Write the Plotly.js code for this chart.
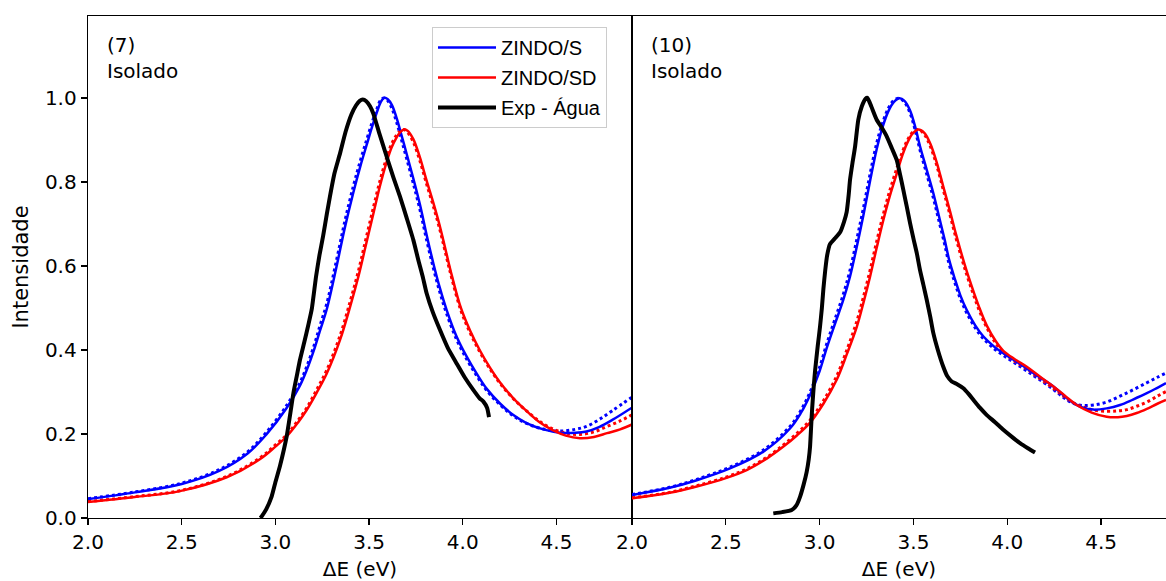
<!DOCTYPE html>
<html>
<head>
<meta charset="utf-8">
<script src="https://cdn.plot.ly/plotly-3.0.1.min.js"></script>
<style>html,body{margin:0;padding:0;background:#fff;}#chart{width:1166px;height:581px;}</style>
</head>
<body>
<div id="chart"></div>
<script>
// ---------- Panel (7) ----------
const zsX7 = [2.0, 2.25, 2.5, 2.7, 2.85, 2.95, 3.06, 3.131, 3.167, 3.211, 3.238, 3.274, 3.327, 3.37, 3.416, 3.455, 3.487, 3.515, 3.541, 3.562, 3.58, 3.6, 3.622, 3.647, 3.675, 3.701, 3.735, 3.772, 3.808, 3.843, 3.878, 3.914, 3.965, 4.021, 4.075, 4.127, 4.2, 4.27, 4.34, 4.43, 4.52, 4.6, 4.66, 4.73, 4.8, 4.9];
const zsY7 = [0.045, 0.061, 0.081, 0.112, 0.153, 0.198, 0.262, 0.315, 0.352, 0.407, 0.446, 0.497, 0.6, 0.69, 0.775, 0.84, 0.888, 0.93, 0.965, 0.99, 1.0, 0.997, 0.983, 0.952, 0.908, 0.866, 0.81, 0.745, 0.672, 0.606, 0.547, 0.495, 0.434, 0.384, 0.343, 0.308, 0.272, 0.245, 0.226, 0.211, 0.203, 0.203, 0.206, 0.217, 0.234, 0.262];
const zsDotY7 = [0.046, 0.062, 0.083, 0.115, 0.157, 0.203, 0.268, 0.322, 0.36, 0.417, 0.458, 0.51, 0.615, 0.705, 0.79, 0.853, 0.9, 0.94, 0.973, 0.995, 1.0, 0.993, 0.975, 0.942, 0.897, 0.855, 0.798, 0.733, 0.66, 0.595, 0.537, 0.486, 0.427, 0.378, 0.338, 0.304, 0.269, 0.243, 0.225, 0.212, 0.207, 0.211, 0.218, 0.235, 0.256, 0.287];
const zsdX7 = [2.0, 2.25, 2.49, 2.74, 2.917, 3.0, 3.06, 3.12, 3.167, 3.22, 3.274, 3.345, 3.4, 3.443, 3.483, 3.523, 3.56, 3.594, 3.62, 3.647, 3.665, 3.685, 3.705, 3.736, 3.77, 3.807, 3.843, 3.878, 3.91, 3.941, 3.99, 4.04, 4.09, 4.145, 4.2, 4.27, 4.34, 4.41, 4.48, 4.55, 4.625, 4.7, 4.77, 4.84, 4.9];
const zsdY7 = [0.038, 0.05, 0.064, 0.097, 0.14, 0.17, 0.194, 0.227, 0.257, 0.298, 0.344, 0.424, 0.505, 0.575, 0.65, 0.725, 0.794, 0.848, 0.882, 0.906, 0.918, 0.925, 0.922, 0.902, 0.86, 0.803, 0.75, 0.694, 0.635, 0.578, 0.5, 0.445, 0.4, 0.358, 0.322, 0.285, 0.255, 0.228, 0.209, 0.196, 0.19, 0.193, 0.202, 0.211, 0.222];
const zsdDotY7 = [0.039, 0.051, 0.065, 0.099, 0.143, 0.174, 0.198, 0.232, 0.262, 0.305, 0.352, 0.434, 0.517, 0.588, 0.664, 0.739, 0.806, 0.858, 0.89, 0.912, 0.921, 0.925, 0.918, 0.895, 0.852, 0.795, 0.742, 0.686, 0.627, 0.571, 0.494, 0.44, 0.396, 0.355, 0.32, 0.284, 0.255, 0.23, 0.212, 0.202, 0.199, 0.205, 0.218, 0.231, 0.245];
const expX7 = [2.92, 2.927, 2.95, 2.98, 3.0, 3.025, 3.06, 3.08, 3.096, 3.115, 3.131, 3.155, 3.176, 3.194, 3.217, 3.235, 3.255, 3.275, 3.291, 3.315, 3.345, 3.375, 3.405, 3.43, 3.45, 3.466, 3.485, 3.505, 3.523, 3.555, 3.594, 3.63, 3.665, 3.7, 3.736, 3.765, 3.786, 3.807, 3.84, 3.878, 3.92, 3.967, 4.01, 4.056, 4.09, 4.11, 4.13, 4.14];
const expY7 = [0.0, 0.004, 0.02, 0.051, 0.085, 0.125, 0.194, 0.25, 0.297, 0.34, 0.376, 0.42, 0.46, 0.497, 0.575, 0.625, 0.672, 0.725, 0.765, 0.82, 0.868, 0.92, 0.96, 0.982, 0.993, 0.996, 0.992, 0.98, 0.962, 0.915, 0.86, 0.81, 0.765, 0.715, 0.662, 0.61, 0.575, 0.535, 0.49, 0.448, 0.405, 0.368, 0.335, 0.305, 0.285, 0.277, 0.262, 0.24];

// ---------- Panel (10) ----------
const zsX10 = [2.0, 2.2, 2.345, 2.522, 2.7, 2.842, 2.9, 2.949, 3.0, 3.038, 3.08, 3.126, 3.162, 3.2, 3.233, 3.27, 3.304, 3.335, 3.366, 3.395, 3.425, 3.452, 3.482, 3.51, 3.535, 3.57, 3.606, 3.635, 3.665, 3.69, 3.72, 3.75, 3.784, 3.83, 3.873, 3.93, 3.979, 4.04, 4.104, 4.17, 4.246, 4.3, 4.352, 4.4, 4.459, 4.53, 4.601, 4.67, 4.744, 4.8, 4.846];
const zsY10 = [0.055, 0.072, 0.09, 0.118, 0.158, 0.213, 0.25, 0.293, 0.35, 0.405, 0.46, 0.519, 0.575, 0.65, 0.72, 0.805, 0.878, 0.93, 0.968, 0.99, 0.999, 0.993, 0.97, 0.93, 0.885, 0.83, 0.773, 0.72, 0.665, 0.615, 0.57, 0.53, 0.495, 0.458, 0.432, 0.408, 0.392, 0.375, 0.356, 0.336, 0.313, 0.292, 0.274, 0.263, 0.258, 0.261, 0.269, 0.282, 0.297, 0.31, 0.321];
const zsDotY10 = [0.056, 0.073, 0.092, 0.121, 0.162, 0.218, 0.256, 0.3, 0.359, 0.415, 0.471, 0.532, 0.59, 0.667, 0.737, 0.821, 0.892, 0.94, 0.975, 0.994, 0.999, 0.99, 0.964, 0.922, 0.876, 0.82, 0.762, 0.709, 0.654, 0.605, 0.561, 0.522, 0.488, 0.452, 0.427, 0.403, 0.387, 0.369, 0.35, 0.33, 0.306, 0.287, 0.273, 0.268, 0.269, 0.276, 0.29, 0.305, 0.322, 0.335, 0.345];
const zsdX10 = [2.0, 2.2, 2.345, 2.5, 2.611, 2.72, 2.807, 2.88, 2.949, 3.02, 3.091, 3.145, 3.198, 3.235, 3.269, 3.305, 3.34, 3.375, 3.411, 3.44, 3.464, 3.495, 3.526, 3.558, 3.589, 3.625, 3.659, 3.695, 3.727, 3.76, 3.793, 3.85, 3.891, 3.94, 3.979, 4.04, 4.104, 4.17, 4.246, 4.31, 4.37, 4.45, 4.53, 4.59, 4.637, 4.69, 4.744, 4.8, 4.846];
const zsdY10 = [0.047, 0.06, 0.075, 0.095, 0.114, 0.142, 0.17, 0.197, 0.227, 0.272, 0.329, 0.39, 0.455, 0.515, 0.575, 0.645, 0.71, 0.768, 0.82, 0.862, 0.89, 0.915, 0.925, 0.917, 0.892, 0.845, 0.789, 0.73, 0.675, 0.623, 0.575, 0.502, 0.458, 0.42, 0.398, 0.378, 0.36, 0.338, 0.313, 0.29, 0.269, 0.251, 0.241, 0.24, 0.243, 0.25, 0.26, 0.272, 0.281];
const zsdDotY10 = [0.048, 0.061, 0.077, 0.097, 0.117, 0.145, 0.174, 0.202, 0.233, 0.279, 0.338, 0.4, 0.468, 0.529, 0.59, 0.66, 0.724, 0.781, 0.832, 0.87, 0.896, 0.918, 0.925, 0.913, 0.886, 0.838, 0.781, 0.721, 0.666, 0.614, 0.567, 0.495, 0.453, 0.415, 0.394, 0.373, 0.355, 0.333, 0.309, 0.287, 0.27, 0.258, 0.254, 0.255, 0.258, 0.266, 0.276, 0.29, 0.301];
const expX10 = [2.753, 2.8, 2.851, 2.876, 2.896, 2.915, 2.931, 2.942, 2.949, 2.955, 2.96, 2.968, 2.976, 2.99, 3.002, 3.012, 3.02, 3.03, 3.04, 3.055, 3.08, 3.109, 3.13, 3.144, 3.155, 3.162, 3.175, 3.189, 3.206, 3.225, 3.245, 3.255, 3.275, 3.304, 3.33, 3.358, 3.385, 3.411, 3.43, 3.446, 3.465, 3.482, 3.5, 3.518, 3.535, 3.553, 3.571, 3.59, 3.606, 3.63, 3.659, 3.68, 3.704, 3.735, 3.766, 3.795, 3.82, 3.855, 3.891, 3.935, 3.979, 4.025, 4.068, 4.11, 4.148];
const expY10 = [0.011, 0.014, 0.019, 0.03, 0.051, 0.08, 0.11, 0.14, 0.17, 0.22, 0.26, 0.31, 0.352, 0.41, 0.455, 0.5, 0.545, 0.59, 0.625, 0.652, 0.665, 0.68, 0.705, 0.728, 0.77, 0.805, 0.845, 0.884, 0.948, 0.98, 0.998, 1.0, 0.98, 0.948, 0.93, 0.908, 0.88, 0.852, 0.815, 0.781, 0.74, 0.702, 0.665, 0.63, 0.59, 0.555, 0.519, 0.478, 0.44, 0.4, 0.36, 0.338, 0.325, 0.318, 0.309, 0.295, 0.281, 0.262, 0.245, 0.228, 0.21, 0.193, 0.178, 0.166, 0.156];

const legendNames = ['ZINDO/S', 'ZINDO/SD', 'Exp - Água'];
const panelLabels = ['(7)<br>Isolado', '(10)<br>Isolado'];
const xTickVals = [2.0, 2.5, 3.0, 3.5, 4.0, 4.5];
const yTickVals = [0.0, 0.2, 0.4, 0.6, 0.8, 1.0];

const BLUE = '#0000ff', RED = '#ff0000', BLACK = '#000000';
function ln(x, y, xa, ya, color, width, dash, name, showleg, smooth) {
  return {x: x, y: y, xaxis: xa, yaxis: ya, type: 'scatter', mode: 'lines', name: name,
    legendgroup: name || undefined, showlegend: showleg, hoverinfo: 'skip',
    line: {color: color, width: width, dash: dash, shape: 'spline', smoothing: smooth}};
}
const traces = [
  ln(zsX7, zsDotY7, 'x', 'y', BLUE, 3, 'dot', 'zs7dot', false, 1),
  ln(zsdX7, zsdDotY7, 'x', 'y', RED, 3, 'dot', 'zsd7dot', false, 1),
  ln(zsX7, zsY7, 'x', 'y', BLUE, 2.5, 'solid', legendNames[0], true, 1),
  ln(zsdX7, zsdY7, 'x', 'y', RED, 2.5, 'solid', legendNames[1], true, 1),
  ln(expX7, expY7, 'x', 'y', BLACK, 4, 'solid', legendNames[2], true, 0.5),
  ln(zsX10, zsDotY10, 'x2', 'y2', BLUE, 3, 'dot', 'zs10dot', false, 1),
  ln(zsdX10, zsdDotY10, 'x2', 'y2', RED, 3, 'dot', 'zsd10dot', false, 1),
  ln(zsX10, zsY10, 'x2', 'y2', BLUE, 2.5, 'solid', legendNames[0], false, 1),
  ln(zsdX10, zsdY10, 'x2', 'y2', RED, 2.5, 'solid', legendNames[1], false, 1),
  ln(expX10, expY10, 'x2', 'y2', BLACK, 4, 'solid', legendNames[2], false, 0.5)
];

const TICKFONT = {family: 'DejaVu Sans', size: 20, color: '#000'};
const split = 544 / 1078;
const xCommon = {
  tickvals: xTickVals, tickformat: '.1f', ticks: 'outside', ticklen: 6, tickwidth: 1.3,
  tickcolor: '#000', showline: true, linecolor: '#000', linewidth: 1.3, mirror: true,
  showgrid: false, zeroline: false, tickfont: TICKFONT, automargin: false,
  title: {text: 'ΔE (eV)', font: {family: 'DejaVu Sans', size: 20, color: '#000'}, standoff: 10}
};
const layout = {
  width: 1166, height: 581,
  margin: {l: 88, r: 0, t: 16, b: 63},
  paper_bgcolor: '#fff', plot_bgcolor: '#fff',
  font: {family: 'DejaVu Sans', color: '#000'},
  showlegend: true,
  xaxis: Object.assign({}, xCommon, {domain: [0, split], range: [2.0, 4.903], anchor: 'y'}),
  xaxis2: Object.assign({}, xCommon, {domain: [split, 1], range: [2.0, 4.846], anchor: 'y2'}),
  yaxis: {
    domain: [0, 1], range: [0, 1.195], anchor: 'x', tickvals: yTickVals, tickformat: '.1f',
    ticks: 'outside', ticklen: 6, tickwidth: 1.3, tickcolor: '#000', showline: true,
    linecolor: '#000', linewidth: 1.3, mirror: true, showgrid: false, zeroline: false,
    tickfont: TICKFONT, automargin: false,
    title: {text: 'Intensidade', font: {family: 'DejaVu Sans', size: 21, color: '#000'}, standoff: 10}
  },
  yaxis2: {
    domain: [0, 1], range: [0, 1.195], anchor: 'x2', matches: 'y', showticklabels: false,
    ticks: '', showline: true, linecolor: '#000', linewidth: 1.3, mirror: false,
    showgrid: false, zeroline: false
  },
  legend: {
    x: (432 - 88) / 1078, y: (518 - 27) / 502, xanchor: 'left', yanchor: 'top',
    xref: 'paper', yref: 'paper',
    bgcolor: '#ffffff', bordercolor: '#cccccc', borderwidth: 1,
    font: {family: 'Liberation Sans', size: 20, color: '#000'},
    tracegroupgap: 1, itemwidth: 58
  },
  annotations: [
    {xref: 'x domain', yref: 'y domain', x: (105 - 88) / 544, y: (518 - 31) / 502,
     xanchor: 'left', yanchor: 'top', align: 'left', showarrow: false, text: panelLabels[0],
     font: {family: 'DejaVu Sans', size: 20, color: '#000'}},
    {xref: 'x2 domain', yref: 'y domain', x: (649 - 632) / 534, y: (518 - 31) / 502,
     xanchor: 'left', yanchor: 'top', align: 'left', showarrow: false, text: panelLabels[1],
     font: {family: 'DejaVu Sans', size: 20, color: '#000'}}
  ]
};
Plotly.newPlot('chart', traces, layout, {staticPlot: true, displayModeBar: false});
</script>
</body>
</html>
